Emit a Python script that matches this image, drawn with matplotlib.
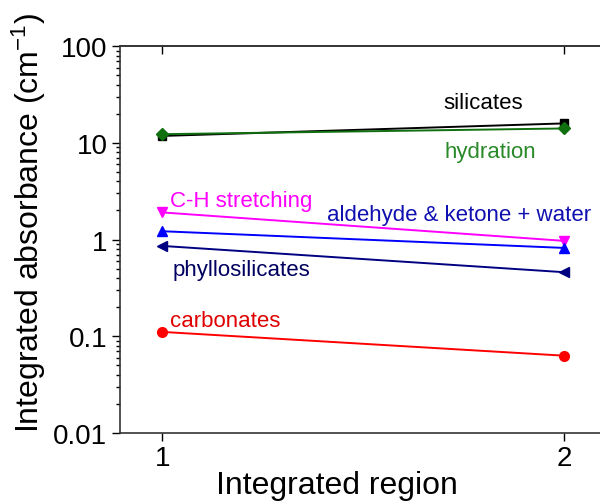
import numpy as np
import matplotlib
matplotlib.use("Agg")
import matplotlib.pyplot as plt

plt.rcParams['font.family'] = ['Liberation Sans', 'DejaVu Sans']
plt.rcParams['mathtext.fontset'] = 'custom'
plt.rcParams['mathtext.rm'] = 'Liberation Sans'
plt.rcParams['mathtext.it'] = 'Liberation Sans'

# integrated regions
regions = [1, 2]

# integrated absorbance per band (cm^-1)
silicates = [11.8, 15.9]
hydration = [12.3, 14.1]
ch_stretching = [1.91, 0.97]
aldehyde_ketone = [1.22, 0.82]
phyllosilicates = [0.86, 0.46]
carbonates = [0.111, 0.063]

fig = plt.figure(figsize=(6.0, 5.02), dpi=100)
ax = fig.add_axes([0.2, 0.1355, 0.807, 0.7705])

ax.plot(regions, silicates, color='black', marker='s', ms=6, lw=1.4)
ax.plot(regions, hydration, color='#107010', marker='D', ms=6, lw=1.4)
ax.plot(regions, ch_stretching, color='#ff00ff', marker='v', ms=7, lw=1.4)
ax.plot(regions, aldehyde_ketone, color='#0000ff', marker='^', ms=7, lw=1.4)
ax.plot(regions, phyllosilicates, color='#000080', marker='<', ms=7, lw=1.4)
ax.plot(regions, carbonates, color='#ff0000', marker='o', ms=7, lw=1.4)

# band labels
fs = 16
ax.text(1.80, 26.4, 'silicates', color='black', fontsize=fs, ha='center', va='center')
ax.text(1.816, 8.2, 'hydration', color='#2a8a2a', fontsize=fs, ha='center', va='center')
ax.text(1.02, 2.55, 'C-H stretching', color='#ff00ff', fontsize=fs, ha='left', va='center')
ax.text(1.41, 1.80, 'aldehyde & ketone + water', color='#1010b0', fontsize=fs, ha='left', va='center')
ax.text(1.027, 0.495, 'phyllosilicates', color='#000060', fontsize=fs, ha='left', va='center')
ax.text(1.02, 0.144, 'carbonates', color='#e00000', fontsize=fs, ha='left', va='center')

ax.set_yscale('log')
ax.set_ylim(0.01, 100)
ax.set_xlim(0.895, 2.1)
ax.set_xticks(regions)
ax.set_xticklabels(['1', '2'])
ax.set_yticks([0.01, 0.1, 1, 10, 100])
ax.set_yticklabels(['0.01', '0.1', '1', '10', '100'])

ax.tick_params(axis='both', labelsize=20, direction='out', length=6, width=1, pad=3)
ax.tick_params(axis='y', which='minor', direction='out', length=3, width=1)

# inward ticks on the top edge
top = ax.secondary_xaxis('top')
top.set_xticks(regions)
top.tick_params(direction='in', length=6, width=1, labeltop=False)

for s in list(ax.spines.values()) + list(top.spines.values()):
    s.set_linewidth(1.2)
    s.set_color('#333333')

ax.set_xlabel('Integrated region', fontsize=23)
ax.set_ylabel('Integrated absorbance (cm$^{-1}$)', fontsize=23)
ax.xaxis.set_label_coords(0.448, -0.096)
ax.yaxis.set_label_coords(-0.148, 0.545)

fig.savefig('out.png', dpi=100)
